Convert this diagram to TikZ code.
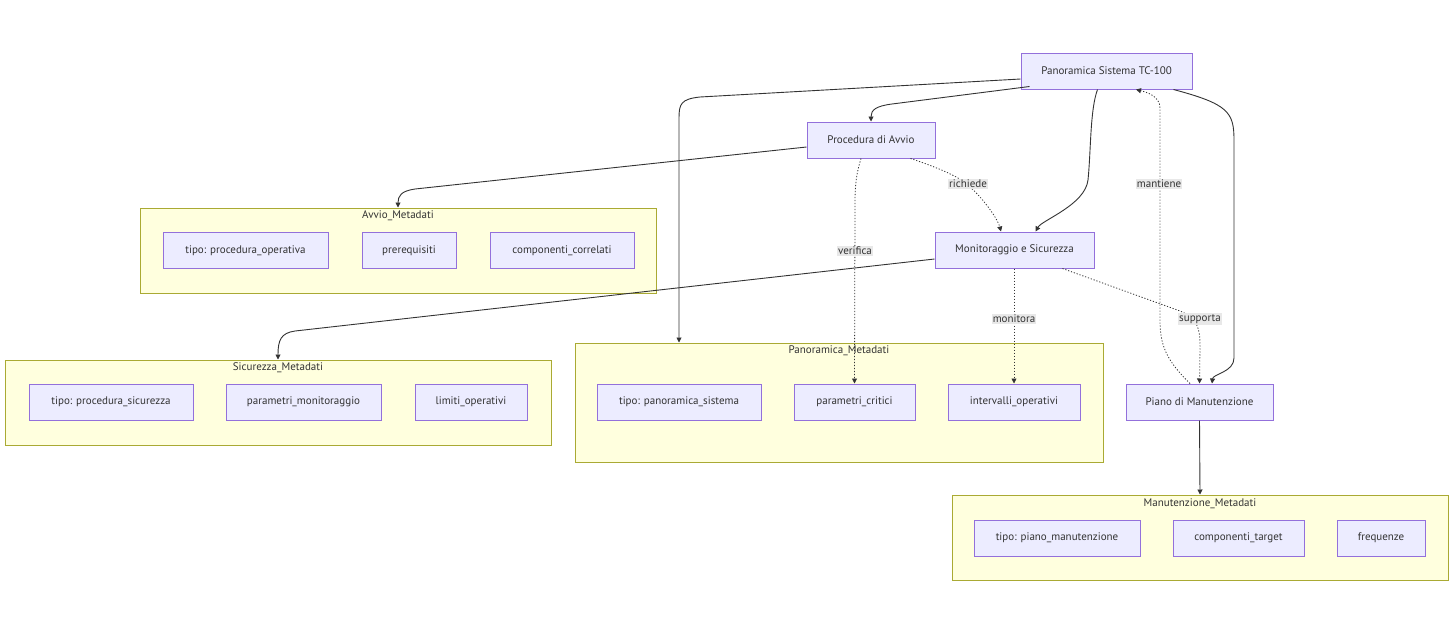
\documentclass[tikz,border=0pt]{standalone}
\usepackage{fontspec}
\setmainfont{PT Sans}
\usetikzlibrary{arrows.meta,calc}
\definecolor{nodefill}{HTML}{ECECFF}
\definecolor{nodeline}{HTML}{9370DB}
\definecolor{clfill}{HTML}{FFFFDE}
\definecolor{clline}{HTML}{AAAA33}
\definecolor{edge}{HTML}{333333}
\definecolor{lblbg}{HTML}{E8E8E8}
\tikzset{
  box/.style={draw=nodeline, fill=nodefill, line width=1pt, minimum height=36pt, inner sep=0pt, text=edge, font=\fontsize{11}{13}\selectfont},
  cluster/.style={draw=clline, fill=clfill, line width=1pt, inner sep=0pt},
  cltitle/.style={text=edge, font=\fontsize{11}{13}\selectfont, inner sep=0pt},
  conn/.style={draw=edge, line width=0.9pt, -{Triangle[length=5pt,width=5pt]}},
  dotconn/.style={conn, line width=0.8pt, dash pattern=on 1.2pt off 1.8pt},
  lbl/.style={fill=lblbg, text=edge, font=\fontsize{11}{13}\selectfont, inner sep=1pt}
}
\begin{document}
\begin{tikzpicture}[x=1pt,y=-1pt]
\useasboundingbox (0,0) rectangle (1456,633);
\fill[white] (0,0) rectangle (1456,633);

% clusters
\node[cluster, minimum width=516pt, minimum height=85pt] (cav) at (398,250.5) {};
\node[cltitle] (tav) at (398,216) {Avvio\_Metadati};
\node[cluster, minimum width=546pt, minimum height=85pt] (csi) at (278,402.5) {};
\node[cltitle] (tsi) at (278,368) {Sicurezza\_Metadati};
\node[cluster, minimum width=528pt, minimum height=119pt] (cpa) at (839,402.5) {};
\node[cltitle] (tpa) at (839,351) {Panoramica\_Metadati};
\node[cluster, minimum width=496pt, minimum height=85pt] (cma) at (1200,537.5) {};
\node[cltitle] (tma) at (1200,504) {Manutenzione\_Metadati};

% main nodes
\node[box, minimum width=171pt] (pan) at (1106.5,71) {Panoramica Sistema TC-100};
\node[box, minimum width=128pt] (avv) at (871,140) {Procedura di Avvio};
\node[box, minimum width=159pt] (mon) at (1014.5,250) {Monitoraggio e Sicurezza};
\node[box, minimum width=147pt] (pia) at (1199.5,402) {Piano di Manutenzione};

% cluster members
\node[box, minimum width=165pt] (a1) at (245.5,250.5) {tipo: procedura\_operativa};
\node[box, minimum width=94pt] (a2) at (409,250.5) {prerequisiti};
\node[box, minimum width=144pt] (a3) at (562,250.5) {componenti\_correlati};

\node[box, minimum width=164pt] (s1) at (111,402) {tipo: procedura\_sicurezza};
\node[box, minimum width=155pt] (s2) at (303.5,402) {parametri\_monitoraggio};
\node[box, minimum width=112pt] (s3) at (471,402) {limiti\_operativi};

\node[box, minimum width=164pt] (p1) at (679,402) {tipo: panoramica\_sistema};
\node[box, minimum width=121pt] (p2) at (854.5,402) {parametri\_critici};
\node[box, minimum width=132pt] (p3) at (1014,402) {intervalli\_operativi};

\node[box, minimum width=166pt] (m1) at (1057,538) {tipo: piano\_manutenzione};
\node[box, minimum width=131pt] (m2) at (1238.5,538) {componenti\_target};
\node[box, minimum width=88pt] (m3) at (1381,538) {frequenze};

% solid edges
\draw[conn] ($(pan.west)+(0,8)$) -- (700,97) .. controls (681,99) and (679,104) .. (679,118) -- (cpa.north -| 679,0);
\draw[conn] ($(pan.south west)+(9,-3)$) -- (892,104) .. controls (876,106) and (871,110) .. (avv.north);
\draw[conn] ($(pan.south)+(-9,0)$) .. controls (1090,110) and (1091,150) .. (1088,180) .. controls (1085,205) and (1042,220) .. ($(mon.north)+(21,0)$);
\draw[conn] ($(pan.south east)+(-19,0)$) .. controls (1228,104) and (1234,112) .. (1234,140) -- (1234,358) .. controls (1234,372) and (1213,374) .. ($(pia.north)+(12.5,0)$);
\draw[conn] ($(avv.west)+(0,7)$) -- (415,189) .. controls (401,191) and (398,196) .. (cav.north);
\draw[conn] ($(mon.west)+(0,9)$) -- (295,331) .. controls (281,333) and (278,340) .. (csi.north);
\draw[conn] (pia.south) -- (cma.north);

% dotted edges
\draw[dotconn] ($(avv.south east)+(-25,0)$) .. controls (945,170) and (960,178) .. (968,185) .. controls (985,200) and (998,220) .. ($(mon.north)+(-13.5,0)$);
\draw[dotconn] ($(avv.south)+(-10,0)$) .. controls (856,175) and (855,185) .. (855,205) -- (p2.north);
\draw[dotconn] (mon.south -| p3.north) -- (p3.north);
\draw[dotconn] ($(mon.south)+(48,0)$) -- (1180,311) .. controls (1197,318) and (1200,328) .. (1200,345) -- (pia.north);
\draw[dotconn] ($(pia.north)+(-9.5,0)$) .. controls (1166,360) and (1160,345) .. (1160,320) -- (1160,108) .. controls (1160,96) and (1146,92) .. ($(pan.south)+(29.5,0)$);

% labels
\node[lbl] (lr) at (968,184) {richiede};
\node[lbl] (lv) at (855,251) {verifica};
\node[lbl] (lm) at (1014,319) {monitora};
\node[lbl] (ls) at (1200,319) {supporta};
\node[lbl] (lt) at (1159,184) {mantiene};
\end{tikzpicture}
\end{document}
